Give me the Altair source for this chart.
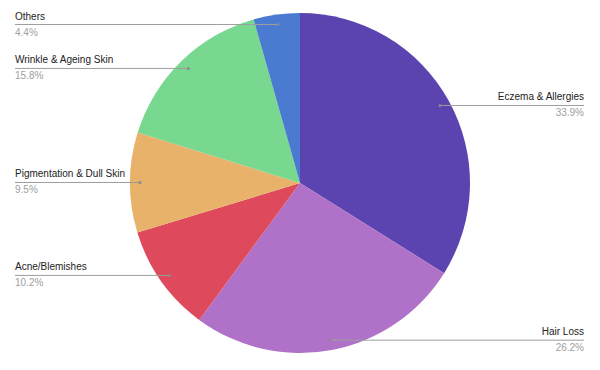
import math
import altair as alt
import pandas as pd

categories = ["Eczema & Allergies", "Hair Loss", "Acne/Blemishes",
              "Pigmentation & Dull Skin", "Wrinkle & Ageing Skin", "Others"]
values = [33.9, 26.2, 10.2, 9.5, 15.8, 4.4]
colors = ["#5c44b0", "#b072c8", "#de4a5c", "#e8b26a", "#78d88f", "#4a7bd1"]

R_OUT = 170
R_DOT = 160
total = sum(values)
rows = []
cum = 0.0
for i, (c, v) in enumerate(zip(categories, values)):
    mid = (cum + v / 2) / total * 2 * math.pi
    cum += v
    dx = R_DOT * math.sin(mid)
    dy = R_DOT * math.cos(mid)
    side = "right" if dx > 0 else "left"
    rows.append({
        "category": c, "value": v, "order": i,
        "dot_x": dx, "dot_y": dy, "side": side,
        "label_x": 284 if side == "right" else -285,
        "pct": f"{v:.1f}%",
    })
df = pd.DataFrame(rows)

xs = alt.Scale(domain=[-300, 300], range=[0, 600], nice=False, zero=False)
ys = alt.Scale(domain=[-183, 183], nice=False, zero=False)

base = alt.Chart(df)

pie = base.mark_arc(outerRadius=R_OUT).encode(
    theta=alt.Theta("value:Q", stack=True),
    color=alt.Color("category:N", scale=alt.Scale(domain=categories, range=colors), legend=None),
    order=alt.Order("order:Q"),
)

X = alt.X("label_x:Q", scale=xs, axis=None)
Y = alt.Y("dot_y:Q", scale=ys, axis=None)

rules = base.mark_rule(color="#9e9e9e", strokeWidth=1).encode(
    x=X, x2="dot_x:Q", y=Y
)
dots = base.mark_circle(color="#8a8a8a", size=9, opacity=1).encode(
    x=alt.X("dot_x:Q", scale=xs, axis=None), y=Y
)

layers = [pie, rules, dots]
for side, align in [("left", "left"), ("right", "right")]:
    sub = base.transform_filter(alt.datum.side == side)
    layers.append(sub.mark_text(align=align, baseline="bottom", dy=-3, font="Liberation Sans",
                                fontSize=10, color="#222222").encode(x=X, y=Y, text="category:N"))
    layers.append(sub.mark_text(align=align, baseline="top", dy=3, font="Liberation Sans",
                                fontSize=10, color="#9e9e9e").encode(x=X, y=Y, text="pct:N"))

chart = alt.layer(*layers).properties(
    width=600, height=366,
    autosize=alt.AutoSizeParams(type="none"),
    padding={"left": 0, "right": 0, "top": 0, "bottom": 4},
).configure_view(stroke=None)

chart.save("out.html", embed_options={"renderer": "svg", "actions": False})
